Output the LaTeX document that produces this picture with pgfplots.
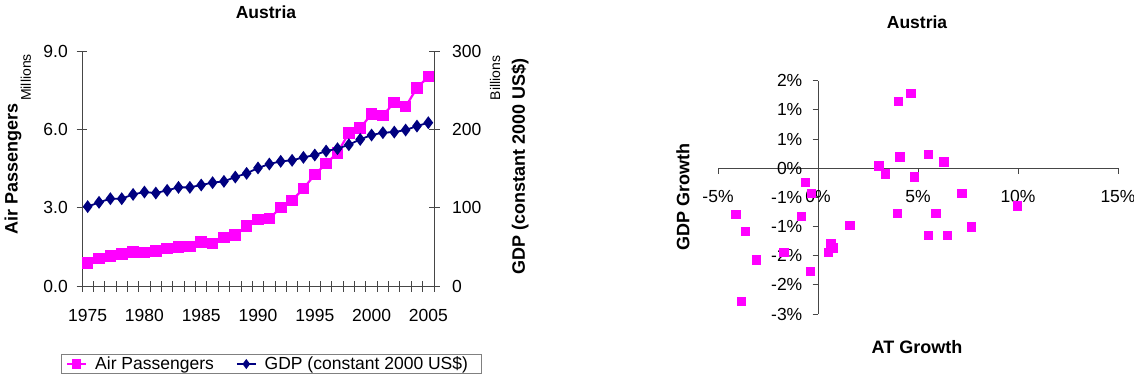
\documentclass[border=0pt]{standalone}
\usepackage{fontspec}
\setmainfont{Liberation Sans}
\usepackage{pgfplots}
\pgfplotsset{compat=1.18}
\definecolor{mag}{RGB}{255,0,255}
\definecolor{navy}{RGB}{0,0,128}
\definecolor{axc}{RGB}{70,70,70}
\newcommand{\tickfont}{\fontsize{17.5}{20}\selectfont}
\newcommand{\labfont}{\fontsize{18}{21}\selectfont\bfseries}
\newcommand{\unitfont}{\fontsize{14}{16}\selectfont}
\newcommand{\titfont}{\fontsize{17.5}{20}\selectfont\bfseries}
\pgfplotsset{
  /pgf/number format/assume math mode=true,
  every axis/.append style={
    scale only axis,
    tick label style={font=\tickfont},
    axis line style={axc, line width=0.9pt, -},
    every tick/.style={axc, line width=0.9pt},
  },
}
\begin{document}
\begin{tikzpicture}
\useasboundingbox (0pt,0pt) rectangle (1134pt,381pt);
% ---------------- left chart, primary axis ----------------
\begin{axis}[
  at={(82pt,95pt)}, anchor=south west, width=352pt, height=234.3pt,
  xmin=1974.5, xmax=2005.5, ymin=0, ymax=9,
  clip=false,
  axis x line*=bottom, axis y line*=left,
  xtick={1975,1980,1985,1990,1995,2000,2005},
  xticklabels={1975,1980,1985,1990,1995,2000,2005},
  major x tick style={draw=none},
  minor xtick={1974.5,1975.5,...,2005.5},
  ytick={0,3,6,9}, yticklabels={0.0,3.0,6.0,9.0},
  tick align=center, major tick length=11pt, minor tick length=11pt,
  xticklabel style={anchor=center, yshift=-24pt},
  yticklabel style={anchor=east, inner sep=0pt, xshift=-8.5pt},
  title={Austria},
  every axis title/.style={at={(axis description cs:0.5227,1.1694)}, anchor=center, font=\titfont},
  ylabel={Air Passengers},
  every axis y label/.style={at={(axis description cs:-0.1832,0.4994)}, rotate=90, anchor=base, inner sep=0pt, font=\labfont},
  legend columns=2,
  legend image post style={mark size=3.6pt},
  legend image code/.code={\draw[mark repeat=2,mark phase=2,#1] plot coordinates {(0pt,0pt) (9.5pt,0pt) (19pt,0pt)};},
  legend style={at={(axis description cs:0.537,-0.333)}, anchor=center, draw=gray, line width=0.8pt,
    font=\tickfont, inner xsep=5pt, inner ysep=1pt, nodes={inner ysep=1.2pt, inner xsep=8pt},
    /tikz/every even column/.append style={column sep=14pt}},
]
\addplot[mag, line width=2.2pt, mark=square*, mark size=4.7pt, mark options={solid}] coordinates {
(1975,0.89) (1976,1.05) (1977,1.15) (1978,1.24) (1979,1.31) (1980,1.29) (1981,1.35)
(1982,1.44) (1983,1.49) (1984,1.51) (1985,1.70) (1986,1.63) (1987,1.86) (1988,1.95)
(1989,2.30) (1990,2.55) (1991,2.59) (1992,3.01) (1993,3.29) (1994,3.74) (1995,4.28)
(1996,4.70) (1997,5.12) (1998,5.87) (1999,6.06) (2000,6.61) (2001,6.55) (2002,7.05)
(2003,6.89) (2004,7.61) (2005,8.04)};
\addlegendentry{Air Passengers}
\addlegendimage{navy, line width=1.8pt, mark=diamond*, mark size=5pt, mark options={solid}}
\addlegendentry{GDP (constant 2000 US\$)}
\node[rotate=90, anchor=base, inner sep=0pt, font=\unitfont] at (axis description cs:-0.1449,0.89) {Millions};
\end{axis}
% ---------------- left chart, secondary axis ----------------
\begin{axis}[
  at={(82pt,95pt)}, anchor=south west, width=352pt, height=234.3pt,
  xmin=1974.5, xmax=2005.5, ymin=0, ymax=300,
  clip=false,
  axis x line=none, axis y line*=right,
  ytick={0,100,200,300}, yticklabels={0,100,200,300},
  tick align=center, major tick length=11pt,
  yticklabel style={anchor=west, inner sep=0pt, xshift=12.5pt},
  ylabel={GDP (constant 2000 US\$)},
  every axis y label/.style={at={(axis description cs:1.2585,0.512)}, rotate=90, anchor=base, inner sep=0pt, font=\labfont},
]
\addplot[navy, line width=1.8pt, mark=diamond*, mark size=5pt, mark options={solid}] coordinates {
(1975,101.6) (1976,107.1) (1977,111.8) (1978,111.8) (1979,117.3) (1980,120.3) (1981,119.0)
(1982,122.5) (1983,126.3) (1984,126.3) (1985,129.3) (1986,132.3) (1987,134.0) (1988,139.5)
(1989,144.2) (1990,151.1) (1991,156.2) (1992,159.6) (1993,160.9) (1994,164.7) (1995,167.7)
(1996,172.8) (1997,175.8) (1998,180.9) (1999,187.7) (2000,193.3) (2001,196.3) (2002,197.1)
(2003,199.7) (2004,204.8) (2005,209.1)};
\node[rotate=90, anchor=base, inner sep=0pt, font=\unitfont] at (axis description cs:1.1875,0.8877) {Billions};
\end{axis}
% ---------------- right chart: scatter ----------------
\begin{axis}[
  at={(718pt,67pt)}, anchor=south west, width=400pt, height=233.3pt,
  xmin=-5, xmax=15, ymin=-2.5, ymax=1.5,
  axis lines=middle, axis line style={-},
  xtick={-5,0,5,10,15}, xticklabels={-5\%,0\%,5\%,10\%,15\%},
  ytick={-2.5,-2,-1.5,-1,-0.5,0,0.5,1,1.5},
  yticklabels={-3\%,-2\%,-2\%,-1\%,-1\%,0\%,1\%,1\%,2\%},
  hide obscured x ticks=false, hide obscured y ticks=false,
  tick align=outside, major tick length=5.5pt,
  xticklabel style={anchor=center, yshift=-23pt},
  yticklabel style={anchor=east, inner sep=0pt, xshift=-10pt},
  clip=false,
  title={Austria},
  every axis title/.style={at={(axis description cs:0.4975,1.2516)}, anchor=center, font=\titfont},
  xlabel={AT Growth}, ylabel={GDP Growth},
  every axis x label/.style={at={(axis description cs:0.4975,-0.1414)}, anchor=center, font=\labfont},
  every axis y label/.style={at={(axis description cs:-0.0875,0.5015)}, rotate=90, anchor=center, font=\labfont},
]
\addplot[only marks, mark=square*, mag, mark size=4.2pt] coordinates {
(4.63,1.284) (4.02,1.153) (4.08,0.20) (5.5,0.245) (6.28,0.114) (3.03,0.046) (3.37,-0.097)
(4.8,-0.143) (-0.63,-0.24) (-0.33,-0.43) (7.18,-0.43) (9.95,-0.64) (-4.12,-0.79) (-0.85,-0.82)
(3.97,-0.77) (5.88,-0.77) (-3.63,-1.08) (1.58,-0.98) (7.67,-1.0) (5.52,-1.15) (6.45,-1.15)
(0.63,-1.29) (0.73,-1.36) (0.5,-1.44) (-1.72,-1.44) (-3.08,-1.57) (-0.4,-1.77) (-3.85,-2.28)};
\end{axis}
\end{tikzpicture}
\end{document}
